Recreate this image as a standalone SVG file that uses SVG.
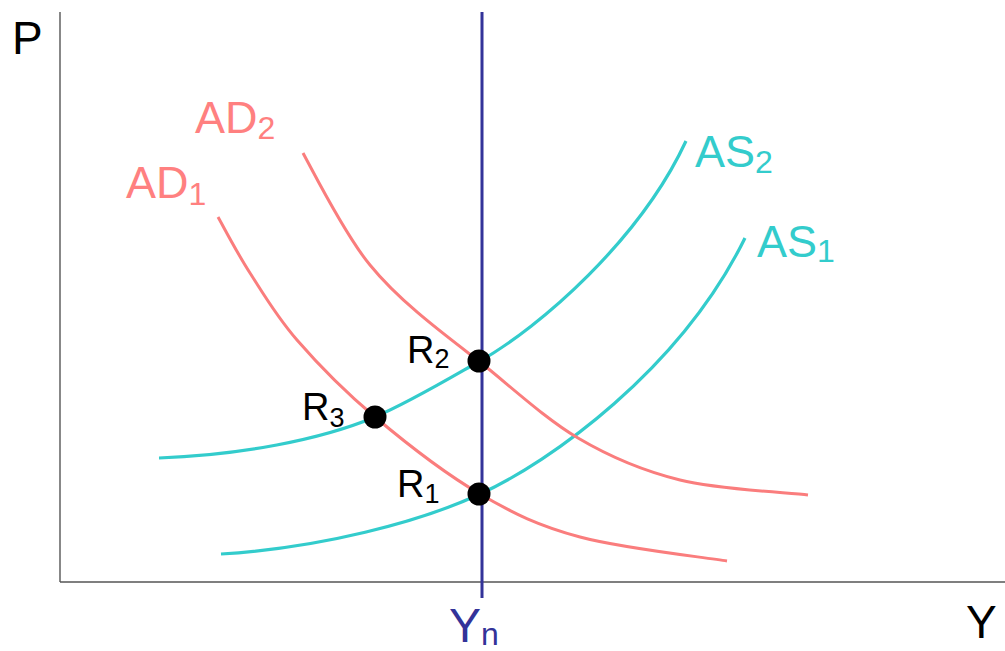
<svg xmlns="http://www.w3.org/2000/svg" width="1005" height="651" viewBox="0 0 1005 651">
<style>
.axis{stroke:#555;stroke-width:1.4;fill:none}
.ad{stroke:#FA7D7D;stroke-width:3;fill:none;stroke-linecap:butt}
.as{stroke:#33CCCC;stroke-width:3.2;fill:none}
.yn{stroke:#333399;stroke-width:3;fill:none}
.lbl{font-family:"Liberation Sans",Arial,sans-serif}
.adt{fill:#FF8080}
.ast{fill:#33CCCC}
.dot{fill:#000}
</style>
<rect width="1005" height="651" fill="#fff"/>
<g id="axes">
<line class="axis" x1="60" y1="12" x2="60" y2="582"/>
<line class="axis" x1="60" y1="582" x2="1005" y2="582"/>
<text class="lbl" x="12" y="54" font-size="46" fill="#000">P</text>
<text class="lbl" x="966" y="638" font-size="46" fill="#000">Y</text>
</g>
<g id="connectors">
<path id="AS1-curve" class="as" d="M221,554 C320,548 420,522 480,494 C550,462 680,370 745,238"/>
<path id="AS2-curve" class="as" d="M159,458 C240,455 320,440 375,417 C410,402 450,378 480,361 C540,327 640,240 686,141"/>
<path id="AD1-curve" class="ad" d="M218,217 C223.3,226.3 236.8,252.5 250,273 C263.2,293.5 276.2,316 297,340 C317.8,364 344.5,391.3 375,417 C405.5,442.7 445.8,474 480,494 C514.2,514 538.8,525.8 580,537 C621.2,548.2 702.5,557 727,561"/>
<path id="AD2-curve" class="ad" d="M303,153 C315,175 345,235 370,265 C400,302 445,335 480,362 C509.7,385.5 544.7,418.3 578,438 C611.3,457.7 641.7,470.5 680,480 C718.3,489.5 786.7,492.5 808,495"/>
<line id="Yn-line" class="yn" x1="482" y1="12" x2="482" y2="598"/>
</g>
<g id="AD1">
<text class="lbl adt" x="126" y="198" font-size="45">AD<tspan font-size="32" dy="7">1</tspan></text>
</g>
<g id="AD2">
<text class="lbl adt" x="195" y="133" font-size="45">AD<tspan font-size="32" dy="6">2</tspan></text>
</g>
<g id="AS1">
<text class="lbl ast" x="757" y="257" font-size="45">AS<tspan font-size="32" dy="5">1</tspan></text>
</g>
<g id="AS2">
<text class="lbl ast" x="695" y="167" font-size="45">AS<tspan font-size="32" dy="6">2</tspan></text>
</g>
<g id="Yn">
<text class="lbl" x="449" y="642" font-size="48" fill="#333399">Y<tspan font-size="32" dy="3">n</tspan></text>
</g>
<g id="R1">
<circle class="dot" cx="479" cy="494" r="11.5"/>
<text class="lbl" x="397" y="497" font-size="38" fill="#000">R<tspan font-size="27" dy="6">1</tspan></text>
</g>
<g id="R2">
<circle class="dot" cx="479" cy="361" r="11.5"/>
<text class="lbl" x="407" y="363" font-size="38" fill="#000">R<tspan font-size="27" dy="5">2</tspan></text>
</g>
<g id="R3">
<circle class="dot" cx="375" cy="417" r="11.5"/>
<text class="lbl" x="302" y="420" font-size="38" fill="#000">R<tspan font-size="27" dy="7">3</tspan></text>
</g>
</svg>
